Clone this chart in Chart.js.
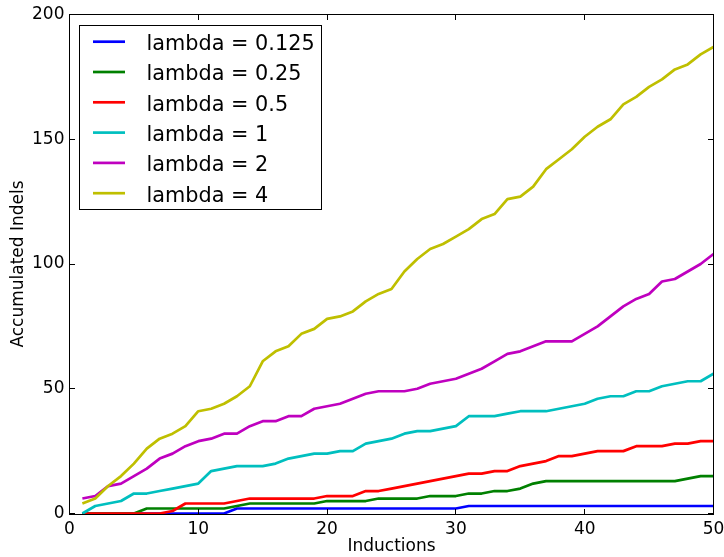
<!DOCTYPE html>
<html><head><meta charset="utf-8">
<script src="https://cdn.jsdelivr.net/npm/chart.js@4.4.0/dist/chart.umd.min.js"></script>
<style>html,body{margin:0;padding:0;background:#fff}#wrap{width:724px;height:557px;position:relative}</style>
</head><body><div id="wrap"><canvas id="c"></canvas></div>
<script>
const inductions = [1,2,3,4,5,6,7,8,9,10,11,12,13,14,15,16,17,18,19,20,21,22,23,24,25,26,27,28,29,30,31,32,33,34,35,36,37,38,39,40,41,42,43,44,45,46,47,48,49,50];
const lambda0125 = [0,0,0,0,0,0,0,0,0,0,0,0,2,2,2,2,2,2,2,2,2,2,2,2,2,2,2,2,2,2,3,3,3,3,3,3,3,3,3,3,3,3,3,3,3,3,3,3,3,3];
const lambda025  = [0,0,0,0,0,2,2,2,2,2,2,2,3,4,4,4,4,4,4,5,5,5,5,6,6,6,6,7,7,7,8,8,9,9,10,12,13,13,13,13,13,13,13,13,13,13,13,14,15,15];
const lambda05   = [0,0,0,0,0,0,0,1,4,4,4,4,5,6,6,6,6,6,6,7,7,7,9,9,10,11,12,13,14,15,16,16,17,17,19,20,21,23,23,24,25,25,25,27,27,27,28,28,29,29];
const lambda1    = [0,3,4,5,8,8,9,10,11,12,17,18,19,19,19,20,22,23,24,24,25,25,28,29,30,32,33,33,34,35,39,39,39,40,41,41,41,42,43,44,46,47,47,49,49,51,52,53,53,56];
const lambda2    = [6,7,11,12,15,18,22,24,27,29,30,32,32,35,37,37,39,39,42,43,44,46,48,49,49,49,50,52,53,54,56,58,61,64,65,67,69,69,69,72,75,79,83,86,88,93,94,97,100,104];
const lambda4    = [4,6,11,15,20,26,30,32,35,41,42,44,47,51,61,65,67,72,74,78,79,81,85,88,90,97,102,106,108,111,114,118,120,126,127,131,138,142,146,151,155,158,164,167,171,174,178,180,184,187];
const seriesLabels = ['lambda = 0.125','lambda = 0.25','lambda = 0.5','lambda = 1','lambda = 2','lambda = 4'];
const seriesValues = [lambda0125, lambda025, lambda05, lambda1, lambda2, lambda4];
const seriesColors = ['#0000ff','#008000','#ff0000','#00bfbf','#bf00bf','#bfbf00'];
const xTickValues = [0,10,20,30,40,50];
const yTickValues = [0,50,100,150,200];
const xTitle = 'Inductions';
const yTitle = 'Accumulated Indels';

const FONT = 'DejaVu Sans';

const datasets = seriesValues.map((vals, i) => ({
  label: seriesLabels[i],
  data: inductions.map((x, j) => ({x: x, y: vals[j]})),
  borderColor: seriesColors[i],
  backgroundColor: seriesColors[i],
  borderWidth: 2.7,
  pointRadius: 0,
  tension: 0,
  fill: false,
  clip: {left: 0, right: 0, top: 0, bottom: 1},
  borderJoinStyle: 'round',
  order: seriesValues.length - i
}));

const mplFrame = {
  id: 'mplFrame',
  afterDatasetsDraw(chart) {
    const {ctx, chartArea: a, scales: {x, y}} = chart;
    ctx.save();
    ctx.strokeStyle = '#000';
    ctx.lineWidth = 1;
    const bottom = a.bottom + 1;
    ctx.strokeRect(a.left, a.top, a.right - a.left, bottom - a.top);
    const L = 5.5;
    ctx.beginPath();
    xTickValues.forEach(v => {
      const px = Math.round(x.getPixelForValue(v) - 0.5) + 0.5;
      ctx.moveTo(px, bottom); ctx.lineTo(px, bottom - L);
      ctx.moveTo(px, a.top); ctx.lineTo(px, a.top + L);
    });
    yTickValues.forEach(v => {
      const py = Math.round(y.getPixelForValue(v) - 0.5) + 0.5;
      ctx.moveTo(a.left, py); ctx.lineTo(a.left + L, py);
      ctx.moveTo(a.right, py); ctx.lineTo(a.right - L, py);
    });
    ctx.stroke();

    // legend (inside axes, upper left)
    const bx = 79.5, by = 25.5, bw = 242, bh = 184;
    ctx.fillStyle = '#fff';
    ctx.fillRect(bx, by, bw, bh);
    ctx.strokeStyle = '#000';
    ctx.lineWidth = 1;
    ctx.strokeRect(bx, by, bw, bh);
    ctx.font = '20.8px "' + FONT + '"';
    ctx.textAlign = 'left';
    ctx.textBaseline = 'alphabetic';
    chart.data.datasets.forEach((ds, i) => {
      const ry = 41.7 + i * 30.3;
      ctx.strokeStyle = ds.borderColor;
      ctx.lineWidth = 2.7;
      ctx.beginPath();
      ctx.moveTo(93, ry); ctx.lineTo(125, ry);
      ctx.stroke();
      ctx.fillStyle = '#000';
      ctx.fillText(ds.label, 146.5, ry + 8.3);
    });
    ctx.restore();
  }
};

new Chart(document.getElementById('c'), {
  type: 'line',
  data: {datasets},
  options: {
    responsive: true,
    maintainAspectRatio: false,
    animation: false,
    devicePixelRatio: 1,
    layout: {padding: {top: 14.5, right: 10.5, left: 0, bottom: 0}},
    plugins: {legend: {display: false}, tooltip: {enabled: false}},
    scales: {
      x: {
        type: 'linear', min: 0, max: 50,
        afterBuildTicks: s => { s.ticks = xTickValues.map(v => ({value: v})); },
        afterFit: s => { s.height = 43.5; s.paddingLeft = 0; s.paddingRight = 0; },
        grid: {display: false, drawTicks: false},
        border: {display: false},
        ticks: {padding: 6, color: '#000', maxRotation: 0, autoSkip: false, font: {family: FONT, size: 17}},
        title: {display: true, text: xTitle, color: '#000', font: {family: FONT, size: 17}, padding: {top: 0, bottom: 0}}
      },
      y: {
        type: 'linear', min: 0, max: 200,
        afterBuildTicks: s => { s.ticks = yTickValues.map(v => ({value: v})); },
        afterFit: s => { s.width = 69.5; s.paddingTop = 0; s.paddingBottom = 0; },
        grid: {display: false, drawTicks: false},
        border: {display: false},
        ticks: {padding: 5, color: '#000', autoSkip: false, font: {family: FONT, size: 17}},
        title: {display: true, text: yTitle, color: '#000', font: {family: FONT, size: 17}, padding: {top: 8, bottom: 0}}
      }
    }
  },
  plugins: [mplFrame]
});
</script>
</body></html>
